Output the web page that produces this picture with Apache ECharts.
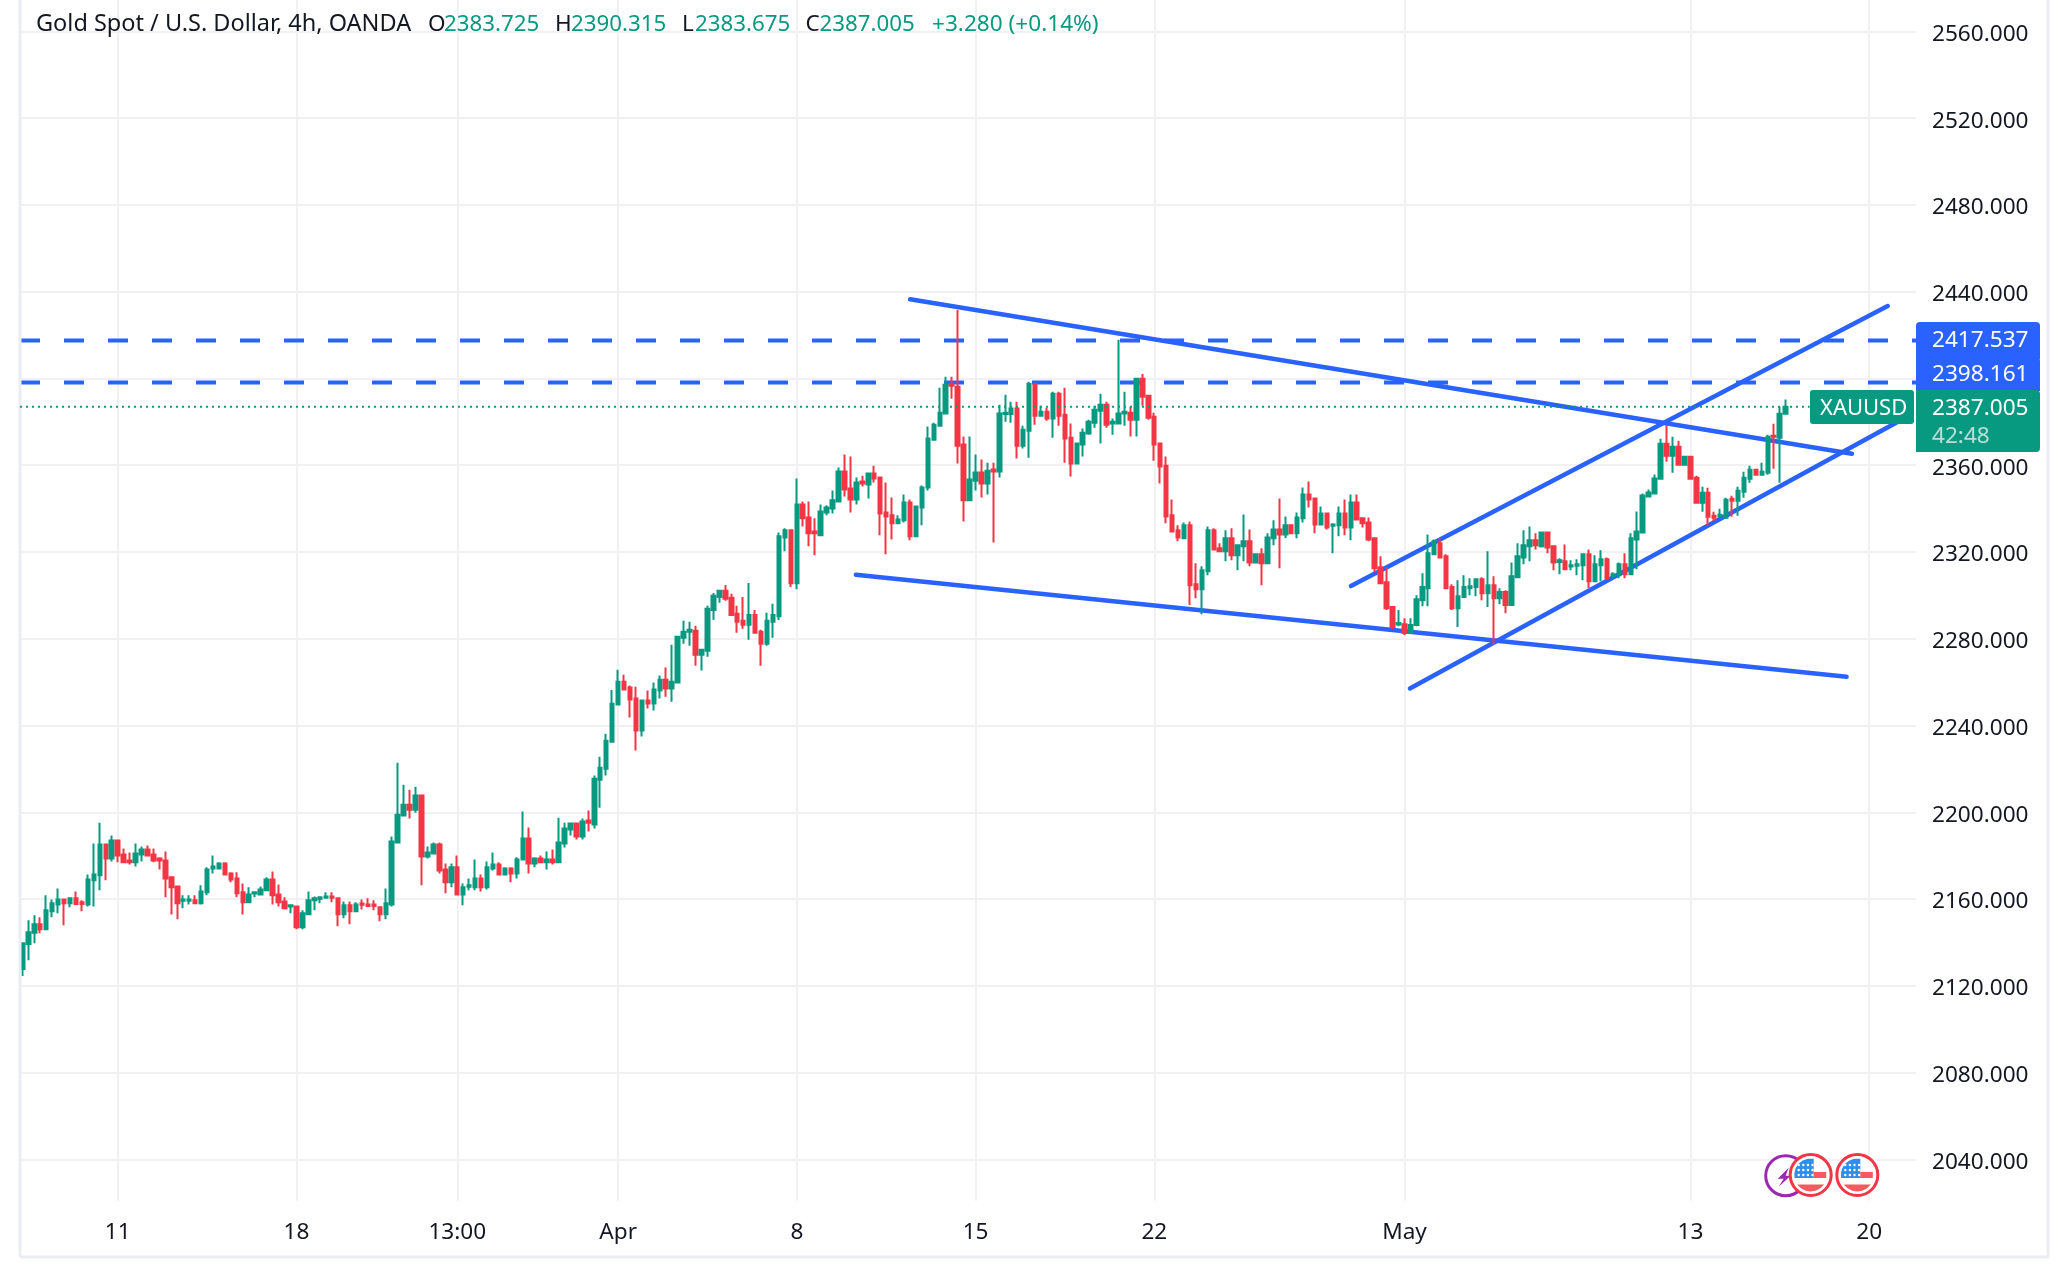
<!DOCTYPE html>
<html><head><meta charset="utf-8">
<style>html,body{margin:0;padding:0;background:#fff}#c{width:2068px;height:1267px}</style>
<script src="https://cdn.jsdelivr.net/npm/echarts@6/dist/echarts.min.js"></script>
</head><body><div id="c"></div>
<script>
const opens=[2127.7,2139.3,2144.4,2148.4,2146.1,2154.3,2157.5,2159.8,2158,2160.3,
2158.5,2157.5,2168.7,2170.9,2185.1,2178.7,2187,2180.5,2177.8,2176.9,
2180.5,2182.8,2180.5,2178.7,2177.8,2170,2165.8,2159.2,2159.2,2159.4,
2158,2163.1,2174.1,2174.1,2176.4,2171.8,2169.5,2163.1,2158.5,2162.5,
2162.1,2164,2169,2162.1,2158.9,2156.6,2156.6,2147,2153,2159.4,
2160,2160.6,2161.2,2160.3,2153,2157.1,2154.3,2157.9,2157.5,2157.5,
2156.2,2153,2157.5,2186.1,2198.5,2203.5,2201.2,2207.7,2179.6,2181,
2185.1,2173.6,2167.7,2174.6,2162.1,2165.7,2165.4,2169.5,2165.4,2174.1,
2175.9,2171.3,2174.1,2171.8,2178.2,2187.9,2176.4,2178.7,2176.9,2178.2,
2176.9,2185.6,2192,2194.8,2188.8,2196.2,2194.3,2215,2220.1,2232.5,
2249.7,2260.2,2257.5,2252.4,2237.7,2251.5,2250.1,2256.1,2261.1,2257,
2259.8,2280.5,2283.2,2283.7,2272.6,2274.5,2293.3,2299.3,2302.1,2298.9,
2291.5,2288.3,2286.4,2291,2283.2,2277.7,2287.8,2290.4,2326.7,2330,
2305.6,2341.9,2335.9,2329.5,2327.7,2338.2,2340.1,2343.3,2357.1,2349.3,
2344.2,2352.5,2351.1,2356.2,2354.3,2338.2,2336.9,2333.2,2334.6,2342.8,
2327.2,2340.5,2349.7,2371.8,2378.2,2383.8,2397.5,2396.2,2369.5,2343.8,
2352.9,2356.6,2351.6,2358,2357.1,2383.6,2383.6,2386.1,2369,2375.9,
2397.5,2382.8,2384.7,2381.5,2393,2383.3,2372.7,2360.8,2369.5,2374.6,
2379.6,2385.1,2387.9,2379.2,2379.2,2383.8,2384.2,2381,2399.9,2392,
2382.4,2370,2359.8,2336.9,2330,2326.3,2332.3,2305.1,2302.8,2311.1,
2330,2321.7,2320.3,2326.3,2318.5,2322.6,2324.9,2315.2,2318.9,2314.8,
2326.3,2330.4,2328.1,2332.3,2328.6,2335.5,2346.5,2344.7,2332.7,2337.8,
2332.1,2332.3,2337.8,2331.3,2342.8,2335.5,2333.6,2326.3,2313,2306.1,
2294.6,2286.6,2286.7,2282.6,2286.3,2297.8,2303.3,2318.9,2324,2318,
2303.8,2294.1,2299.2,2303.3,2303.8,2307.4,2301,2304.7,2298.7,2301.5,
2295.5,2308.4,2317.5,2322.6,2325.4,2322.6,2329,2322.6,2315.4,2315.7,
2313.3,2313.7,2313.9,2318.9,2306.5,2313.9,2316.6,2308.8,2309.3,2314.3,
2309.7,2325.8,2329,2345.6,2347,2353.8,2369.9,2364.4,2368.5,2360.2,
2363.9,2354.2,2342.7,2347.3,2336.7,2336.4,2335.8,2344.6,2343.6,2347.8,
2353.8,2357.9,2355.6,2356.5,2373.6,2372.7,2383.725];
const closes=[2139.6,2144.7,2148.4,2146.1,2154.8,2158,2159.8,2158,2160.3,2157.7,
2157.7,2169,2171.3,2185.1,2178.7,2187,2180.1,2176.9,2176.9,2181,
2182.8,2180.1,2177.8,2177.8,2169.5,2165.4,2158,2159.8,2159.8,2158,
2163.5,2173.6,2175,2176.4,2171.3,2169,2162.6,2158.5,2162.1,2163.1,
2164.4,2169,2161.7,2158.5,2155.7,2157.1,2147,2153.4,2159.4,2160.3,
2160.8,2161.2,2160.6,2153,2157.1,2154.3,2157.5,2157.4,2156.8,2156.8,
2153,2158,2186.5,2198.9,2203.5,2201.2,2207.7,2179.6,2181.5,2185.1,
2173.2,2167.7,2174.6,2162.1,2165.4,2166.3,2169.5,2165.4,2174.6,2175.9,
2171.3,2174.1,2171.8,2178.2,2187.9,2176.4,2178.7,2176.9,2178.2,2176.9,
2186.1,2192.5,2194.8,2188.8,2195.7,2195.2,2215.5,2220.5,2233,2250,
2260.2,2256.6,2252,2237.7,2251.5,2250.1,2256.6,2261.1,2257,2260.2,
2280.9,2283.2,2284.1,2272.6,2274.9,2293.8,2299.8,2302.1,2298.4,2291,
2287.8,2286.4,2291,2282.8,2277.7,2288.3,2291,2327.2,2330,2305.6,
2341.9,2335.5,2328.6,2328.6,2338.7,2340.5,2343.8,2357.1,2348.8,2344.2,
2352,2351.6,2356.2,2353.9,2337.8,2336.4,2333.2,2335,2342.8,2327.2,
2341,2349.7,2372.3,2378.7,2384.2,2397.1,2396.6,2369,2343.8,2353.4,
2356.6,2351.6,2357.5,2357.1,2383.8,2384.2,2386.1,2369,2376.4,2397.5,
2382.8,2384.7,2381.5,2393,2382.8,2372.3,2360.8,2370,2375,2380.1,
2385.6,2387.9,2378.7,2380.1,2383.8,2384.7,2381,2399.9,2391.6,2381.9,
2369.5,2359.4,2336.4,2329.5,2326.7,2332.3,2304.7,2302.8,2311.6,2330,
2321.2,2320.3,2326.3,2318.5,2323.1,2324.9,2315.2,2318.9,2314.8,2326.7,
2330.4,2328.1,2332.3,2328.6,2335.9,2346.5,2344.2,2332.7,2337.8,2331.3,
2332.7,2337.8,2331.3,2342.8,2335,2333.2,2325.8,2312.5,2305.6,2294.1,
2285.4,2287.2,2282.6,2286.3,2298.2,2303.8,2319.4,2324.9,2317.5,2303.3,
2294.1,2299.6,2303.8,2304.2,2307.4,2301,2304.7,2298.7,2301.5,2295.5,
2308.8,2318,2323.1,2325.4,2323.1,2329,2322.1,2315.2,2316.2,2312,
2313.9,2314.3,2318.9,2306.5,2314.3,2316.6,2307.9,2309.7,2314.3,2309.7,
2326.3,2329.5,2346,2347.4,2353.9,2369.9,2364.4,2368.5,2360.2,2363.9,
2353.8,2342.7,2347.3,2336.3,2335.8,2337.2,2344.1,2343.6,2348.2,2354.2,
2357.9,2355.6,2357,2373.1,2373.1,2383.7,2387.005];
const highs=[2139.6,2150.2,2152.5,2151.6,2161.7,2159.8,2164.9,2159.8,2160.8,2163.5,
2159.4,2171.3,2185.6,2195.2,2185.1,2189.3,2187,2183.3,2181.5,2185.6,
2184.2,2184.7,2183.3,2179.2,2181.9,2170,2165.8,2161.7,2161.7,2161.7,
2166.3,2174.6,2180.1,2176.9,2176.9,2172.3,2172.3,2167.2,2165.4,2163.1,
2165.8,2170,2172.7,2166.7,2160.8,2157.5,2156.6,2154.8,2163.5,2161.2,
2161.2,2163.1,2163.1,2160.8,2158.9,2158.9,2158.5,2159.8,2160.3,2159.4,
2156.2,2164.9,2188.8,2222.8,2212.7,2210.4,2211.8,2208.1,2184.2,2186.1,
2186.1,2176.4,2176.4,2180.1,2167.2,2169.5,2178.2,2171.3,2177.3,2181.5,
2176.9,2174.6,2174.6,2179.2,2200.3,2193,2179.2,2180.1,2181.9,2182.8,
2197.5,2195.2,2195.2,2194.8,2197.1,2200.8,2216.9,2225.6,2236.2,2256.4,
2265.7,2263.4,2258.4,2257.9,2252,2256.1,2259.8,2263,2266.7,2277.2,
2280.9,2288.3,2287.8,2286,2275.4,2295.2,2301.1,2302.5,2304.8,2300.7,
2295.2,2299.3,2305.7,2293.3,2284.1,2292,2296.1,2329,2330.9,2330,
2353.9,2343.3,2343.3,2335.5,2341.9,2341.5,2348.4,2358.9,2364.9,2364,
2354.3,2355.2,2356.6,2359.8,2354.8,2352,2345.1,2336.9,2346.5,2344.2,
2341,2350.7,2377.8,2379.6,2395.7,2400.8,2400.8,2431.6,2373.2,2373.2,
2364.9,2362.6,2361.2,2361.2,2387.9,2392.5,2389.3,2389.3,2378.2,2398.5,
2398,2387.4,2386.5,2393.9,2393.9,2395.7,2379.2,2370.4,2376.9,2381,
2387.4,2393,2389.3,2381.5,2417.8,2393.9,2387,2399.9,2402.1,2392,
2384.2,2370.4,2364,2344.2,2332.3,2333.6,2334.1,2314.8,2313.4,2331.8,
2330.9,2324,2330,2330.9,2323.1,2337.3,2330.4,2319.4,2321.7,2328.6,
2334.6,2344.7,2336.4,2332.7,2338.2,2349.7,2352.5,2344.7,2341,2337.8,
2333.2,2341,2344.2,2346.5,2346.5,2335.9,2335.9,2326.7,2318,2313,
2294.6,2293.2,2289.5,2289.5,2300.1,2310.2,2328.1,2325.8,2326.3,2318.9,
2305.1,2307,2309.3,2307.9,2307.9,2308.4,2320.3,2308.8,2303.3,2302.4,
2315.2,2324,2330,2331.8,2328.6,2329.5,2329,2323.1,2317.1,2323.5,
2316.2,2316.6,2319.4,2321.2,2318.5,2320.8,2317.5,2310.7,2315.2,2319.4,
2328.6,2338.7,2347,2348.8,2355.7,2372.2,2378.6,2373.1,2371.3,2364.4,
2364.4,2355.1,2350.1,2349.6,2338.6,2339.9,2345,2345.9,2350.1,2357,
2359.8,2357.9,2361.1,2374,2379.1,2386.9,2390.315];
const lows=[2124.5,2131.8,2139.6,2144.2,2145.6,2151.6,2153.4,2147.9,2156.2,2157.7,
2154.3,2156.6,2156.6,2164,2168.6,2177.3,2176.9,2176.9,2175.9,2175,
2177.3,2180.1,2176.9,2173.6,2160.8,2152.9,2150.7,2155.7,2157.5,2158,
2157.5,2161.7,2171.8,2174.1,2170.9,2167.7,2160.8,2152.9,2158,2160.8,
2161.7,2164,2157.5,2156.6,2155.2,2153.4,2146.1,2146.1,2153,2154.8,
2158,2160.3,2158.5,2147.4,2151.1,2148.4,2154.3,2155.2,2156.6,2154.8,
2149.7,2150.7,2156.6,2186.1,2198,2197.1,2199.8,2166.3,2178.7,2181,
2171.8,2162.6,2165.4,2161.7,2157.1,2164,2164,2163.5,2164.4,2173.2,
2170.9,2171.3,2167.7,2169.5,2178.2,2171.8,2174.6,2176.9,2173.6,2175.9,
2176.9,2183.8,2189.3,2187.4,2187.4,2191.1,2192.5,2202.1,2216.9,2232.5,
2249.7,2256.1,2243.7,2228.5,2234.9,2247.8,2246.9,2252.4,2253.3,2251,
2259.8,2277.7,2276.8,2267.6,2265.3,2271.7,2288.7,2296.6,2297.5,2291,
2282.8,2284.6,2279.5,2282.8,2267.6,2276.8,2280.5,2288.6,2320.3,2303.8,
2302.8,2331.8,2322.6,2318.5,2327.2,2336.9,2337.8,2342.8,2345.6,2338.2,
2341.9,2350.2,2344.7,2352,2327.7,2318.9,2325.8,2333.2,2333.6,2325.4,
2327.2,2332.3,2348.4,2371.8,2378.2,2383.8,2390.7,2360.8,2334.1,2343.8,
2348.4,2345.1,2346.5,2324.4,2354.3,2380.1,2379.6,2363.1,2367.7,2363.5,
2378.7,2382.8,2380.5,2372.7,2378.2,2361.2,2354.8,2360.8,2364,2374.1,
2377.3,2370,2377.3,2374.1,2379.2,2378.2,2373.2,2373.2,2387.4,2381,
2362.1,2351.6,2333.2,2329,2324.9,2326.3,2295.5,2298.7,2291.3,2309.3,
2321.2,2320.3,2315.7,2316.2,2311.6,2315.7,2313.4,2315.2,2304.7,2314.3,
2323.1,2312.5,2326.3,2328.6,2326.3,2333.6,2340.5,2328.6,2332.7,2330.4,
2319.4,2327.2,2327.7,2325.4,2335,2331.3,2324.9,2310.7,2305.1,2293.2,
2284.4,2285.8,2281.7,2282.6,2285.8,2295,2295,2318.9,2317.1,2302.8,
2293.2,2285.4,2299.2,2300.1,2299.6,2297.8,2294.6,2277.5,2295.9,2291.8,
2295.5,2308.4,2314.3,2315.7,2321.2,2322.1,2319.4,2311.6,2309.7,2312,
2311.6,2309.3,2307,2303.3,2306.5,2306.5,2307.9,2307.9,2307.9,2307.9,
2309.7,2312,2329,2345.1,2347,2353.8,2361.6,2356.5,2359.8,2359.8,
2353.8,2342.2,2338.6,2332.1,2334.4,2335.8,2335.8,2336.3,2336.7,2345,
2351.9,2355.6,2355.6,2355.6,2358.4,2351.9,2383.675];

const dateTickBars=[16,46,73,100,130,160,190,232,280,310];
const dateTickLabels=['11','18','13:00','Apr','8','15','22','May','13','20'];
const priceTicks=[2040,2080,2120,2160,2200,2240,2280,2320,2360,2400,2440,2480,2520,2560];
const resistanceLevels=[2417.537,2398.161];
const lastPrice=2387.005;
const trendFallingUpper=[[149.0,2436.5],[307.1,2365.3]];
const trendFallingLower=[[139.9,2309.5],[306.2,2262.5]];
const channelUpper=[[223.0,2304.3],[313.1,2433.4]];
const channelLower=[[232.9,2257.1],[315.2,2380.6]];
const headerParts=[
 ['Gold Spot / U.S. Dollar, 4h, OANDA',36,'#131722',23.5],['O',428,'#131722',22.5],['2383.725',444,'#089981',22.3],
 ['H',555,'#131722',22.5],['2390.315',571,'#089981',22.3],['L',682,'#131722',22.5],['2383.675',695,'#089981',22.3],
 ['C',805.5,'#131722',22.5],['2387.005',819.5,'#089981',22.3],['+3.280 (+0.14%)',932,'#089981',22.6]];

const GREEN='#089981',RED='#f23645',BLUE='#2962ff',GRID='#f1f1f4',TEXT='#131722',EDGE='#ecedf3';
const FONT='"Noto Sans"';
const barCount=318, cats=Array.from({length:barCount},(_,i)=>i);
const candles=opens.map((o,i)=>[o,closes[i],lows[i],highs[i]]);
const YMIN=2020.9,YMAX=2574.5,KMIN=-0.403,KMAX=317.85;

function lineSeries(name,data,w,type,z,extra){
 return Object.assign({name,type:'line',xAxisIndex:1,yAxisIndex:1,data,symbol:'none',z,silent:true,
  lineStyle:{color:BLUE,width:w,type,cap:'round'}},extra||{});
}
const txt=(text,x,y,fill,size)=>({type:'text',z:60,silent:true,style:{text,x,y,fill,font:(size||22.6)+'px '+FONT,textVerticalAlign:'middle'}});
function flag(cx,cy){
 const dots=[];
 for(let r=0;r<3;r++)for(let c=0;c<4;c++)dots.push({type:'circle',shape:{cx:-12+c*4.6,cy:-10+r*5,r:1.2},style:{fill:'#fff'},z:53});
 return {type:'group',x:cx,y:cy,z:50,silent:true,children:[
  {type:'circle',shape:{cx:0,cy:0,r:20.5},style:{fill:'#fff',stroke:RED,lineWidth:3},z:50},
  {type:'polygon',shape:{points:[[3,-16.2],[-3,-16.2],[-8,-14.5],[-12,-11.5],[-15,-7],[-16.3,-2],[-16.2,3],[3,3]]},style:{fill:'#2f8fef'},z:51},
  {type:'rect',shape:{x:3,y:-3,width:12.5,height:6},style:{fill:'#f6595f'},z:51},
  {type:'polygon',shape:{points:[[-13.5,9.5],[-10,13],[-5,15.7],[0,16.5],[5,15.7],[10,13],[13.5,9.5]]},style:{fill:'#f6595f'},z:51},
 ].concat(dots)};
}
const graphics=[
 {type:'line',z:5,silent:true,shape:{x1:20,y1:0,x2:20,y2:1257},style:{stroke:EDGE,lineWidth:3}},
 {type:'line',z:5,silent:true,shape:{x1:2048,y1:0,x2:2048,y2:1258},style:{stroke:EDGE,lineWidth:3}},
 {type:'line',z:5,silent:true,shape:{x1:20,y1:1257,x2:2049,y2:1257},style:{stroke:EDGE,lineWidth:3}},
 {type:'rect',z:40,silent:true,shape:{x:1916,y:322,width:124,height:37,r:[4,4,0,0]},style:{fill:BLUE}},
 {type:'rect',z:41,silent:true,shape:{x:1916,y:357,width:124,height:34,r:[0,4,0,0]},style:{fill:BLUE}},
 {type:'rect',z:42,silent:true,shape:{x:1916,y:390,width:124,height:62,r:[0,4,4,0]},style:{fill:GREEN}},
 {type:'rect',z:42,silent:true,shape:{x:1810,y:390,width:104,height:34,r:3},style:{fill:GREEN}},
 txt(String(resistanceLevels[0]),1932,340.5,'#fff'),
 txt(String(resistanceLevels[1]),1932,374.5,'#fff'),
 txt(String(lastPrice),1932,408.5,'#fff'),
 txt('42:48',1932,436.5,'#b6e0d7'),
 txt('XAUUSD',1820,408.5,'#fff',22),
 {type:'group',x:1785.7,y:1175.7,z:45,silent:true,children:[
  {type:'circle',shape:{cx:0,cy:0,r:20},style:{fill:'#fff',stroke:'#9c27b0',lineWidth:3},z:45},
  {type:'polygon',shape:{points:[[3,-8],[-8,3],[-2,3],[-7,11],[5,0],[0,0]]},style:{fill:'#9c27b0'},z:46}]},
 flag(1810.7,1175),flag(1857.3,1175)
].concat(headerParts.map(p=>txt(p[0],p[1],24.5,p[2],p[3])));

const chart=echarts.init(document.getElementById('c'),null,{renderer:'canvas'});
chart.setOption({
 animation:false,backgroundColor:'#fff',
 grid:[
  {left:19.4,top:0,width:barCount*5.957,height:1200.7,containLabel:false},
  {left:20,top:0,width:1896,height:1200.7,containLabel:false}
 ],
 xAxis:[
  {type:'category',gridIndex:0,data:cats,show:false,boundaryGap:true},
  {type:'value',gridIndex:1,min:KMIN,max:KMAX,
   axisLine:{show:false},
   axisTick:{show:false,customValues:dateTickBars},
   splitLine:{show:true,lineStyle:{color:GRID,width:2}},
   axisLabel:{customValues:dateTickBars,margin:20.5,color:TEXT,fontFamily:FONT,fontSize:22.6,hideOverlap:false,
    formatter:v=>dateTickLabels[dateTickBars.indexOf(v)]}}
 ],
 yAxis:[
  {type:'value',gridIndex:0,min:YMIN,max:YMAX,show:false,scale:true},
  {type:'value',gridIndex:1,min:YMIN,max:YMAX,position:'right',scale:true,
   axisLine:{show:false},
   axisTick:{show:false,customValues:priceTicks},
   splitLine:{show:true,lineStyle:{color:GRID,width:2}},
   axisLabel:{customValues:priceTicks,margin:16,align:'left',verticalAlign:'middle',hideOverlap:false,
    rich:{p:{color:TEXT,fontFamily:FONT,fontSize:22.6,padding:[6,0,0,0]}},
    formatter:v=>'{p|'+v.toFixed(3)+'}'}}
 ],
 graphic:{elements:graphics},
 series:[
  lineSeries('Resistance 1',[[KMIN,resistanceLevels[0]],[KMAX,resistanceLevels[0]]],4,[20,24],2,{lineStyle:{color:BLUE,width:4,type:[20,24]}}),
  lineSeries('Resistance 2',[[KMIN,resistanceLevels[1]],[KMAX,resistanceLevels[1]]],4,[20,24],2,{lineStyle:{color:BLUE,width:4,type:[20,24]}}),
  lineSeries('Trend upper',trendFallingUpper,4.5,'solid',3),
  lineSeries('Trend lower',trendFallingLower,4.5,'solid',3),
  lineSeries('Channel upper',channelUpper,4.5,'solid',3),
  lineSeries('Channel lower',channelLower,4.5,'solid',3),
  {name:'XAUUSD',type:'candlestick',xAxisIndex:0,yAxisIndex:0,data:candles,barWidth:4,z:4,silent:true,
   itemStyle:{color:GREEN,color0:RED,borderColor:GREEN,borderColor0:RED,borderColorDoji:GREEN,borderWidth:2}},
  {name:'Last price',type:'line',xAxisIndex:1,yAxisIndex:1,data:[[KMIN,lastPrice],[300,lastPrice]],symbol:'none',z:5,silent:true,
   lineStyle:{color:GREEN,width:2,type:[2,4]}}
 ]
});
</script></body></html>
